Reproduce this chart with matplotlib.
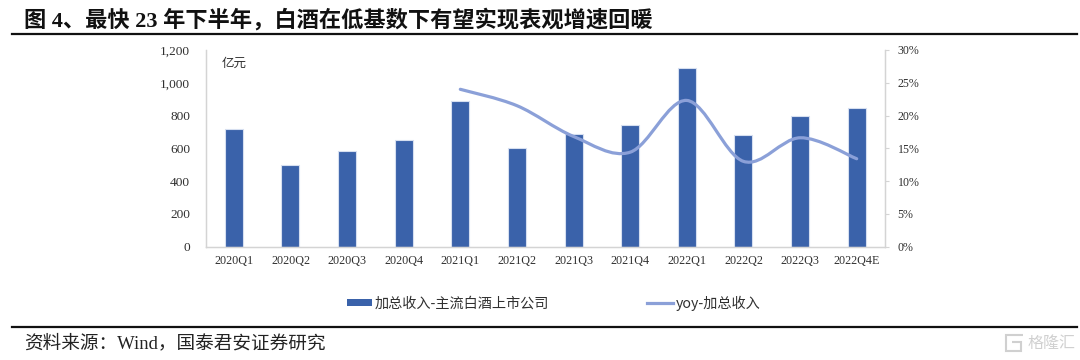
import matplotlib
matplotlib.use("Agg")
import matplotlib.pyplot as plt
from matplotlib.path import Path
from matplotlib.patches import PathPatch, Patch
from matplotlib.lines import Line2D
from matplotlib.ticker import FuncFormatter, PercentFormatter

SERIF = ['Liberation Serif', 'Noto Sans CJK SC']
CJK = ['Noto Sans CJK SC', 'Liberation Serif']

categories = ['2020Q1', '2020Q2', '2020Q3', '2020Q4', '2021Q1', '2021Q2',
              '2021Q3', '2021Q4', '2022Q1', '2022Q2', '2022Q3', '2022Q4E']
revenue = [720, 495, 585, 650, 890, 600, 685, 745, 1090, 680, 795, 845]
yoy_positions = [4, 5, 6, 7, 8, 9, 10, 11]
yoy = [24.0, 21.5, 16.8, 14.4, 22.3, 13.0, 16.6, 13.4]

title = '图 4、最快 23 年下半年\uff0c白酒在低基数下有望实现表观增速回暖'
source = '资料来源\uff1aWind\uff0c国泰君安证券研究'
bar_label = '加总收入-主流白酒上市公司'
line_label = 'yoy-加总收入'
unit = '亿元'
watermark = '格隆汇'

W, H = 1080, 360
fig = plt.figure(figsize=(W / 100, H / 100), dpi=100)
ax = fig.add_axes([205.5 / W, 1 - 246.5 / H, (885 - 205.5) / W, (246.5 - 50) / H])
ax2 = ax.twinx()

BAR = '#3A62AA'
LINE = '#8BA0D8'
AXC = '#D4D4D4'
TXT = '#303030'

x = range(len(categories))
ax.bar(x, revenue, width=0.32, color=BAR, edgecolor='#D6DFF0', linewidth=0.8, zorder=2)
ax.set_xlim(-0.5, len(categories) - 0.5)
ax.set_ylim(0, 1200)
ax.set_yticks(range(0, 1201, 200))
ax.yaxis.set_major_formatter(FuncFormatter(lambda v, _: f'{int(v):,}'))
ax.set_xticks(list(x))
ax.set_xticklabels(categories, family=SERIF, fontsize=8.7, color=TXT)
ax.tick_params(axis='x', length=0, pad=6)
ax.tick_params(axis='y', length=0, pad=11, labelsize=9.6, labelcolor=TXT)
for t in ax.get_yticklabels():
    t.set_family(SERIF)

ax2.set_ylim(0, 30)
ax2.set_yticks(range(0, 31, 5))
ax2.yaxis.set_major_formatter(PercentFormatter(decimals=0))
ax2.tick_params(axis='y', length=3, width=0.8, color=AXC, pad=6, labelsize=8.6, labelcolor=TXT)
for t in ax2.get_yticklabels():
    t.set_family(SERIF)

for a in (ax, ax2):
    a.spines['top'].set_visible(False)
    for s in ('left', 'right', 'bottom'):
        a.spines[s].set_color(AXC)
        a.spines[s].set_linewidth(0.9)

# smoothed line: cubic Bezier segments through the data points
px, py = yoy_positions, yoy
verts = [(px[0], py[0])]
codes = [Path.MOVETO]
n = len(px)
for i in range(n - 1):
    p0 = max(i - 1, 0); p3 = min(i + 2, n - 1)
    c1 = (px[i] + (px[i + 1] - px[p0]) / 6, py[i] + (py[i + 1] - py[p0]) / 6)
    c2 = (px[i + 1] - (px[p3] - px[i]) / 6, py[i + 1] - (py[p3] - py[i]) / 6)
    verts += [c1, c2, (px[i + 1], py[i + 1])]
    codes += [Path.CURVE4] * 3
ax2.add_patch(PathPatch(Path(verts, codes), fill=False, edgecolor=LINE, linewidth=2.3,
                        capstyle='round', zorder=3))

fig.text(222 / W, 1 - 63 / H, unit, family=CJK, fontsize=9, color=TXT, va='center', ha='left')

# legend
handles = [Patch(facecolor=BAR, edgecolor='none'), Line2D([], [], color=LINE, linewidth=2.3)]
fig.legend(handles, [bar_label, line_label], loc='center left',
           bbox_to_anchor=(334 / W, 1 - 303 / H), ncol=2, frameon=False,
           prop={'family': CJK, 'size': 10.2}, labelcolor=TXT,
           handlelength=1.8, handleheight=0.4, handletextpad=0.2, columnspacing=6.9)

# header, footer
fig.text(24 / W, 1 - 20 / H, title, family=SERIF, fontsize=16, fontweight='bold',
         color='#111111', va='center', ha='left')
fig.add_artist(Line2D([12 / W, 1077 / W], [1 - 33.5 / H] * 2, color='#111111', linewidth=1.6))
fig.add_artist(Line2D([12 / W, 1077 / W], [1 - 327 / H] * 2, color='#111111', linewidth=1.6))
fig.text(24 / W, 1 - 343 / H, source, family=SERIF, fontsize=13.4, color='#222222',
         va='center', ha='left')
fig.text(1027 / W, 1 - 343 / H, watermark, family=CJK, fontsize=11.5, color='#D0D0D0',
         va='center', ha='left')
fig.add_artist(PathPatch(Path([(1023 / W, 1 - 335 / H), (1006 / W, 1 - 335 / H), (1006 / W, 1 - 351 / H),
                               (1021 / W, 1 - 351 / H), (1021 / W, 1 - 342 / H), (1012 / W, 1 - 342 / H)]),
                         fill=False, edgecolor='#D0D0D0', linewidth=1.5, transform=fig.transFigure))

fig.savefig('out.png', dpi=100)
